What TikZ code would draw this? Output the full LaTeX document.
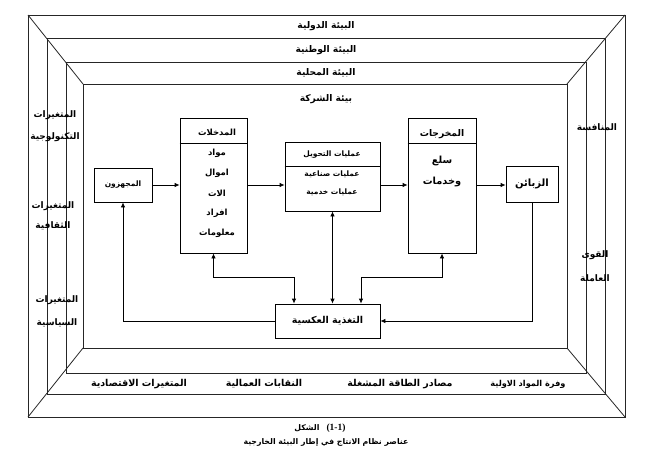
\documentclass[tikz,border=0pt]{standalone}
\usepackage{fontspec}
\setmainfont{Liberation Serif}
\newfontfamily\arabicfont[Script=Arabic]{DejaVu Sans}
\TeXXeTstate=1
\usetikzlibrary{arrows.meta,calc}
\newcommand{\artxt}[1]{{\arabicfont\bfseries\beginR #1\endR}}
\newcommand{\fs}[1]{\fontsize{#1}{#1}\selectfont}
\begin{document}
\begin{tikzpicture}[x=1pt,y=-1pt,
  frame/.style={draw=black!85,line width=0.8pt},
  box/.style={draw,line width=0.8pt,inner sep=0pt},
  lbl/.style={inner sep=0pt,font=\fs{7.5}},
  side/.style={inner sep=0pt,font=\fs{9}},
  big/.style={inner sep=0pt,font=\fs{9.2}},
  conn/.style={line width=0.8pt,-{Latex[length=5pt,width=4.5pt]}},
  bconn/.style={line width=0.8pt,{Latex[length=5pt,width=4.5pt]}-{Latex[length=5pt,width=4.5pt]}}]
\useasboundingbox (0,0) rectangle (658,466);
% frames
\draw[frame] (28,15) rectangle (625,417);
\draw[frame] (47,38) rectangle (605,394);
\draw[frame] (66,62) rectangle (586,373);
\draw[frame] (83,84) rectangle (567,348);
\draw[frame] (28,15) -- (83,84);
\draw[frame] (625,15) -- (567,84);
\draw[frame] (28,417) -- (83,348);
\draw[frame] (625,417) -- (567,348);
% band labels
\node[big] (t1) at (326,26) {\artxt{البيئة الدولية}};
\node[big] (t2) at (326,50) {\artxt{البيئة الوطنية}};
\node[big] (t3) at (326,73) {\artxt{البيئة المحلية}};
\node[big] (t4) at (326,99) {\artxt{بيئة الشركة}};
\node[side] (l1a) at (55,115) {\artxt{المتغيرات}};
\node[side] (l1b) at (55,137) {\artxt{التكنولوجية}};
\node[side] (l2a) at (53,206) {\artxt{المتغيرات}};
\node[side] (l2b) at (53,226) {\artxt{الثقافية}};
\node[side] (l3a) at (57,300) {\artxt{المتغيرات}};
\node[side] (l3b) at (57,323) {\artxt{السياسية}};
\node[side] (r1) at (597,127) {\artxt{المنافسة}};
\node[side] (r2a) at (595,255) {\artxt{القوى}};
\node[side] (r2b) at (595,278) {\artxt{العاملة}};
\node[inner sep=0pt,font=\fs{9.5}] (b1) at (139,384) {\artxt{المتغيرات الاقتصادية}};
\node[inner sep=0pt,font=\fs{9.5}] (b2) at (264,384) {\artxt{النقابات العمالية}};
\node[inner sep=0pt,font=\fs{9.5}] (b3) at (400,384) {\artxt{مصادر الطاقة المشغلة}};
\node[inner sep=0pt,font=\fs{8.2}] (b4) at (528,384) {\artxt{وفرة المواد الاولية}};
% caption
\node[inner sep=0pt,font=\fs{7.8}] (c1a) at (307,428) {\artxt{الشكل}};
\node[inner sep=0pt,font=\fs{9.5}\bfseries] (c1b) at (336,428) {(1-1)};
\node[inner sep=0pt,font=\fs{7.8}] (c2) at (326,442) {\artxt{عناصر نظام الانتاج في إطار البيئة الخارجية}};
% boxes
\node[box,minimum width=58pt,minimum height=34pt] (sup) at (123,185) {};
\node[lbl] (supt) at (sup.center) {\artxt{المجهزون}};
\node[box,minimum width=67pt,minimum height=135pt] (in) at (213.5,185.5) {};
\draw[line width=0.8pt] (in.west |- 0,143) -- (in.east |- 0,143);
\node[inner sep=0pt,font=\fs{8.5}] (in0) at (217,132) {\artxt{المدخلات}};
\node[inner sep=0pt,font=\fs{8.5}] (in1) at (217,153) {\artxt{مواد}};
\node[inner sep=0pt,font=\fs{8.5}] (in2) at (217,173) {\artxt{اموال}};
\node[inner sep=0pt,font=\fs{8.5}] (in3) at (217,193) {\artxt{الات}};
\node[inner sep=0pt,font=\fs{8.5}] (in4) at (217,213) {\artxt{افراد}};
\node[inner sep=0pt,font=\fs{8.5}] (in5) at (217,233) {\artxt{معلومات}};
\node[box,minimum width=95pt,minimum height=69pt] (tr) at (332.5,176.5) {};
\draw[line width=0.8pt] (tr.west |- 0,166) -- (tr.east |- 0,166);
\node[lbl] (tr0) at (332,155) {\artxt{عمليات التحويل}};
\node[lbl] (tr1) at (332,174) {\artxt{عمليات صناعية}};
\node[lbl] (tr2) at (332,192) {\artxt{عمليات خدمية}};
\node[box,minimum width=68pt,minimum height=135pt] (out) at (442,185.5) {};
\draw[line width=0.8pt] (out.west |- 0,143) -- (out.east |- 0,143);
\node[inner sep=0pt,font=\fs{9.2}] (out0) at (442,134) {\artxt{المخرجات}};
\node[inner sep=0pt,font=\fs{9.8}] (out1) at (442,161) {\artxt{سلع}};
\node[inner sep=0pt,font=\fs{9.8}] (out2) at (442,182) {\artxt{وخدمات}};
\node[box,minimum width=52pt,minimum height=36pt] (cus) at (532,184) {};
\node[inner sep=0pt,font=\fs{10}] (cust) at (cus.center) {\artxt{الزبائن}};
\node[box,minimum width=105pt,minimum height=34pt] (fb) at (327.5,321) {};
\node[inner sep=0pt,font=\fs{9.5}] (fbt) at (fb.center) {\artxt{التغذية العكسية}};
% connectors
\coordinate (fa) at ($(fb.north)+(-33.5,0)$);
\coordinate (fc) at ($(fb.north)+(33.5,0)$);
\draw[conn] (sup.east) -- (sup.east -| in.west);
\draw[conn] (in.east |- sup.east) -- (tr.west |- sup.east);
\draw[conn] (tr.east |- sup.east) -- (out.west |- sup.east);
\draw[conn] (out.east |- sup.east) -- (cus.west |- sup.east);
\draw[conn] (fb.west) -| (sup.south);
\draw[conn] (cus.south) |- (fb.east);
\draw[bconn] (in.south) |- ($(fa)+(0,-26)$) -- (fa);
\draw[bconn] (tr.south) -- (tr.south |- fb.north);
\draw[bconn] (out.south) |- ($(fc)+(0,-26)$) -- (fc);
\end{tikzpicture}
\end{document}
